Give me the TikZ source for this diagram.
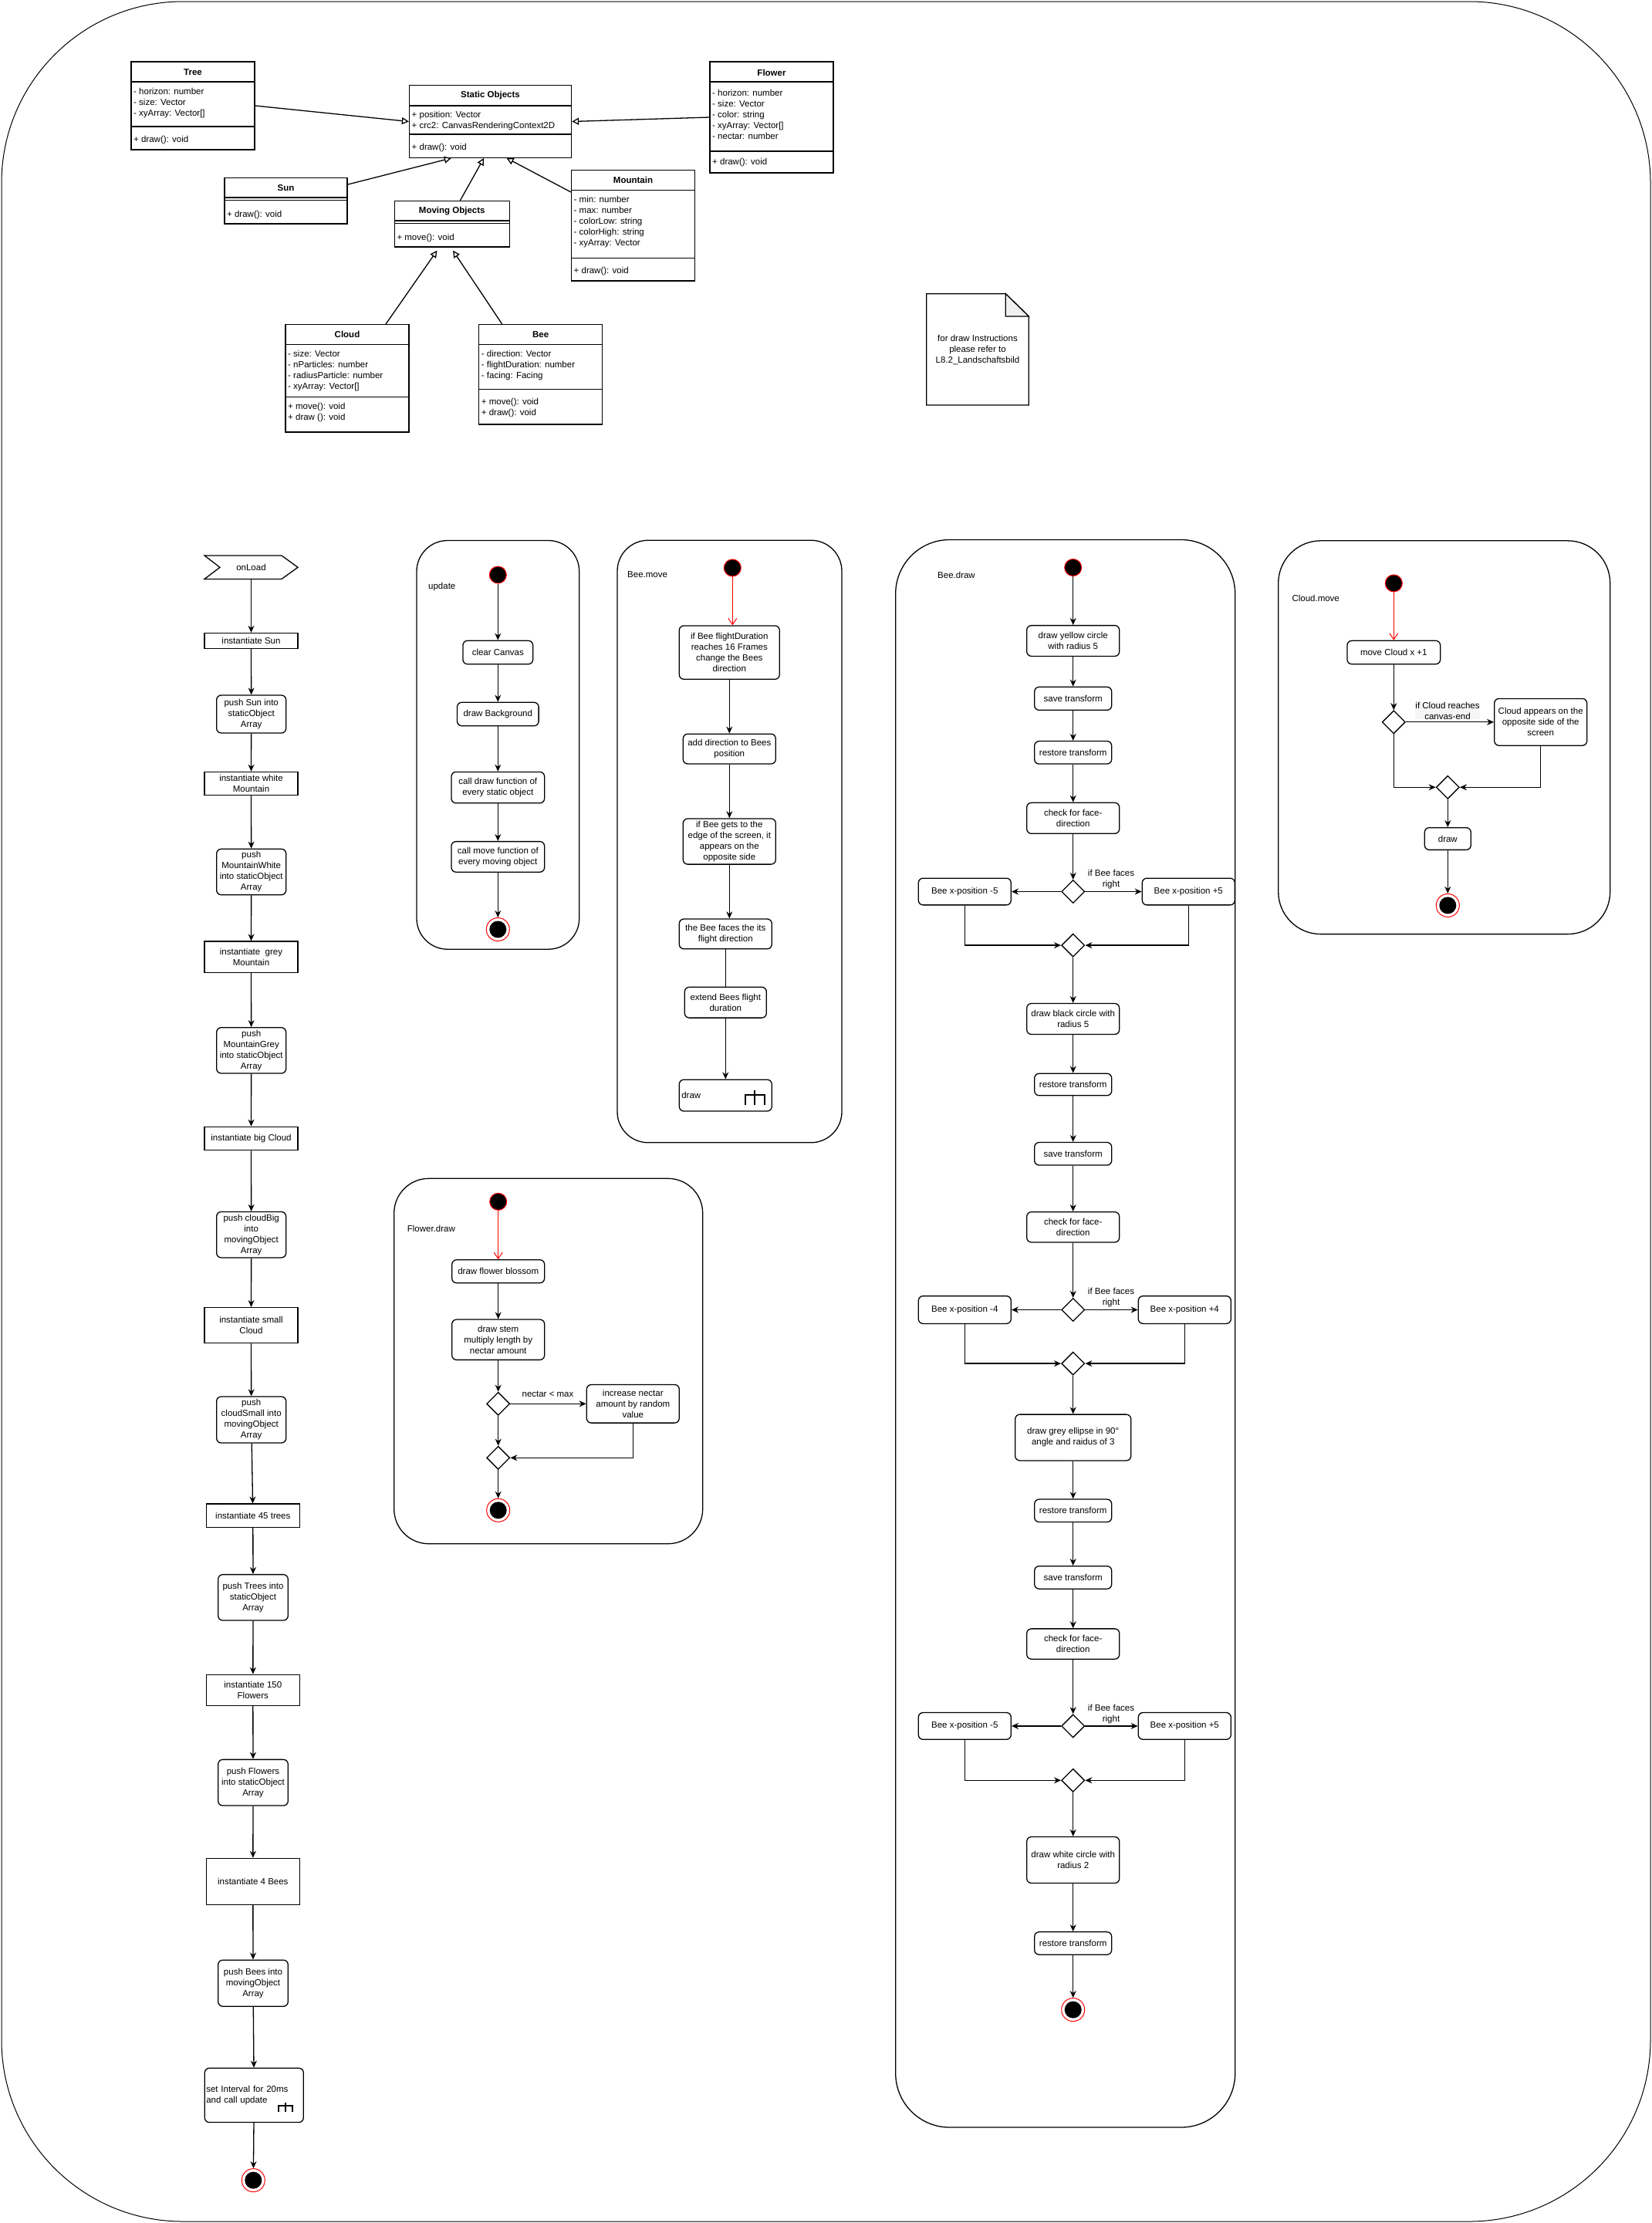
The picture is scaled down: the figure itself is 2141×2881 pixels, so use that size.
\documentclass[tikz,border=0pt]{standalone}
\usepackage{fontspec}
\setmainfont{Liberation Sans}
\usepackage{tikz}
\usetikzlibrary{shapes.geometric, arrows.meta, positioning, calc}
\newcommand{\flowfont}{\fontsize{11.5}{14}\selectfont}
\tikzset{
  wh/.style 2 args={minimum width=#1pt, minimum height=#2pt},
  act/.style={draw, rounded corners=6pt, align=center, inner sep=1pt, line width=1.3pt, font=\flowfont},
  actsq/.style={draw, align=center, inner sep=1pt, line width=1.3pt, font=\flowfont},
  cls/.style={draw, inner sep=0pt, line width=1.3pt},
  clsname/.style={font=\flowfont\bfseries, inner sep=0pt},
  clstext/.style={anchor=west, align=left, font=\flowfont, inner sep=0pt},
  decision/.style={draw, diamond, wh={30}{30}, inner sep=0pt, line width=1.3pt},
  startdot/.style={circle, draw=red, fill=black, minimum size=22pt, inner sep=0pt, line width=1pt},
  enddot/.style={circle, draw=red, fill=white, minimum size=30pt, inner sep=0pt, line width=1pt,
    path picture={\fill[black] (path picture bounding box.center) circle (11pt);}},
  arr/.style={-{Stealth[length=9pt, width=8pt]}, line width=1.3pt},
  redarr/.style={red, -{Straight Barb[length=8pt, width=11pt]}, line width=1pt},
  inherit/.style={-{Triangle[open, length=9pt, width=9pt]}, line width=1.3pt},
  panel/.style={draw, line width=1.3pt},
  lbl/.style={font=\flowfont, inner sep=0pt, align=center},
  paneltitle/.style={font=\flowfont, inner sep=0pt, anchor=west}
}

\begin{document}
\begin{tikzpicture}[x=1pt, y=-1pt]
    \useasboundingbox (0,0) rectangle (2141,2881);

    % Outer frame
    \draw[line width=1pt, rounded corners=235pt] (2,2) rectangle (2139,2879);

    % Tree class
    \node[cls, wh={160}{114}] (tree) at (250,137) {};
    \node[clsname] (treename) at (250,94) {Tree};
    \draw[line width=1.3pt] (170,106) -- (330,106);
    \draw[line width=1.3pt] (170,164) -- (330,164);
    \node[clstext] (treeattr) at (173,133.7) {- horizon: number\\- size: Vector\\- xyArray: Vector[]};
    \node[clstext] (treeops) at (173,181.7) {+ draw(): void};

    % Static Objects class
    \node[cls, wh={210}{93.6}] (static) at (635.5,157.5) {};
    \node[clsname] (staticname) at (635.5,124) {Static Objects};
    \draw[line width=1.3pt] (530.5,137) -- (740.5,137);
    \draw[line width=1.3pt] (530.5,174) -- (740.5,174);
    \node[clstext] (staticattr) at (533.5,156.7) {+ position: Vector\\+ crc2: CanvasRenderingContext2D};
    \node[clstext] (staticops) at (533.5,191.7) {+ draw(): void};

    % Sun class
    \node[cls, wh={159}{59.3}] (sun) at (370.5,260.3) {};
    \node[clsname] (sunname) at (370.5,244) {Sun};
    \draw[line width=1.3pt] (291,256) -- (450,256);
    \draw[line width=1.3pt] (291,259.3) -- (450,259.3);
    \node[clstext] (sunops) at (294,278.3) {+ draw(): void};

    % Moving Objects class
    \node[cls, wh={149}{59.3}] (moving) at (585.8,290.3) {};
    \node[clsname] (movingname) at (585.8,274) {Moving Objects};
    \draw[line width=1.3pt] (511.3,286) -- (660.3,286);
    \draw[line width=1.3pt] (511.3,289.3) -- (660.3,289.3);
    \node[clstext] (movingops) at (514.3,308.3) {+ move(): void};

    % Mountain class
    \node[cls, wh={160}{143.3}] (mountain) at (820.5,292.3) {};
    \node[clsname] (mountainname) at (820.5,233.7) {Mountain};
    \draw[line width=1.3pt] (740.5,246.7) -- (900.5,246.7);
    \draw[line width=1.3pt] (740.5,334.7) -- (900.5,334.7);
    \node[clstext] (mountainattr) at (743.5,288) {- min: number\\- max: number\\- colorLow: string\\- colorHigh: string\\- xyArray: Vector};
    \node[clstext] (mountainops) at (743.5,351.7) {+ draw(): void};

    % Flower class
    \node[cls, wh={160}{144}] (flower) at (1000,152) {};
    \node[clsname] (flowername) at (1000,94) {Flower};
    \draw[line width=1.3pt] (920,106) -- (1080,106);
    \draw[line width=1.3pt] (920,196) -- (1080,196);
    \node[clstext] (flowerattr) at (923,148) {- horizon: number\\- size: Vector\\- color: string\\- xyArray: Vector[]\\- nectar: number};
    \node[clstext] (flowerops) at (923,211) {+ draw(): void};

    % Cloud class
    \node[cls, wh={160}{139.3}] (cloud) at (450,490.3) {};
    \node[clsname] (cloudname) at (450,433.3) {Cloud};
    \draw[line width=1.3pt] (370,446.7) -- (530,446.7);
    \draw[line width=1.3pt] (370,514.3) -- (530,514.3);
    \node[clstext] (cloudattr) at (373,480.3) {- size: Vector\\- nParticles: number\\- radiusParticle: number\\- xyArray: Vector[]};
    \node[clstext] (cloudops) at (373,534.7) {+ move(): void\\+ draw (): void};

    % Bee class
    \node[cls, wh={160}{129.3}] (bee) at (700.7,485.3) {};
    \node[clsname] (beename) at (700.7,433.3) {Bee};
    \draw[line width=1.3pt] (620.7,446.7) -- (780.7,446.7);
    \draw[line width=1.3pt] (620.7,504.3) -- (780.7,504.3);
    \node[clstext] (beeattr) at (623.7,473.3) {- direction: Vector\\- flightDuration: number\\- facing: Facing};
    \node[clstext] (beeops) at (623.7,528.7) {+ move(): void\\+ draw(): void};

    % Inheritance
    \draw[inherit] (tree.east) -- (static.west);
    \draw[inherit] (flower.west) -- (static.east);
    \draw[inherit] ($(sun.north east)!.15!(sun.south east)$) -- ($(static.south west)!.26!(static.south east)$);
    \draw[inherit] ($(moving.north west)!.57!(moving.north east)$) -- ($(static.south west)!.46!(static.south east)$);
    \draw[inherit] ($(mountain.north west)!.2!(mountain.south west)$) -- ($(static.south west)!.6!(static.south east)$);
    \draw[inherit, shorten >=5pt] ($(cloud.north west)!.81!(cloud.north east)$) -- ($(moving.south west)!.39!(moving.south east)$);
    \draw[inherit, shorten >=5pt] ($(bee.north west)!.19!(bee.north east)$) -- ($(moving.south west)!.49!(moving.south east)$);

    % Note
    \draw[line width=1.3pt] (1200.7,380.7) -- (1303.3,380.7) -- (1333.3,410) -- (1333.3,525) -- (1200.7,525) -- cycle;
    \filldraw[fill=black!6, line width=1.3pt] (1303.3,380.7) -- (1303.3,410) -- (1333.3,410) -- cycle;
    \node[lbl] (note) at (1267,453) {for draw Instructions\\please refer to\\L8.2\_Landschaftsbild};

    % onLoad
    \draw[line width=1.3pt] (265,720) -- (365,720) -- (386,735.3) -- (365,750.4) -- (265,750.4) -- (285,735.3) -- cycle;
    \node[lbl, wh={121}{30.4}] (onload) at (325.5,735.3) {onLoad};
    \node[actsq, wh={121}{20}] (isun) at (325.5,830.5) {instantiate Sun};
    \node[act, wh={90}{49}] (psun) at (325.7,925.5) {push Sun into\\staticObject\\Array};
    \node[actsq, wh={121}{30}] (iwm) at (325.5,1015.4) {instantiate white\\Mountain};
    \node[act, wh={90}{59.4}] (pwm) at (325.7,1130) {push\\MountainWhite\\into staticObject\\Array};
    \node[actsq, wh={121}{40.3}] (igm) at (325.5,1240.2) {instantiate\ \ grey\\Mountain};
    \node[act, wh={90}{59.3}] (pgm) at (325.7,1361.4) {push\\MountainGrey\\into staticObject\\Array};
    \node[actsq, wh={121}{30.3}] (ibc) at (325.5,1475.5) {instantiate big Cloud};
    \node[act, wh={90}{59.4}] (pbc) at (325.7,1600.2) {push cloudBig\\into\\movingObject\\Array};
    \node[actsq, wh={121}{46}] (isc) at (325.5,1717.6) {instantiate small\\Cloud};
    \node[act, wh={90}{60}] (psc) at (325.7,1840) {push\\cloudSmall into\\movingObject\\Array};
    \node[actsq, wh={121}{30.4}] (itr) at (327.8,1964.3) {instantiate 45 trees};
    \node[act, wh={90.6}{59.4}] (ptr) at (328,2070.3) {push Trees into\\staticObject\\Array};
    \node[actsq, wh={121}{40.2}] (ifl) at (327.8,2190.4) {instantiate 150\\Flowers};
    \node[act, wh={90.6}{59.7}] (pfl) at (328,2310.2) {push Flowers\\into staticObject\\Array};
    \node[actsq, wh={121}{60}] (ibe) at (327.8,2438.4) {instantiate 4 Bees};
    \node[act, wh={90.6}{60}] (pbe) at (328,2570.2) {push Bees into\\movingObject\\Array};
    \node[act, wh={128}{70.3}, text width=124pt, align=left] (sint) at (329.3,2715.4) {set Interval for 20ms\\and call update};
    \draw[line width=1.3pt] (370,2725) -- (370,2737);
    \draw[line width=1.3pt] (361,2737) -- (361,2729) -- (379,2729) -- (379,2737);
    \node[enddot] (lend) at (328.3,2825.6) {};
    \foreach \a/\b in {onload/isun, isun/psun, psun/iwm, iwm/pwm, pwm/igm, igm/pgm, pgm/ibc, ibc/pbc,
                       pbc/isc, isc/psc, psc/itr, itr/ptr, ptr/ifl, ifl/pfl, pfl/ibe, ibe/pbe, pbe/sint, sint/lend}
        \draw[arr] (\a) -- (\b);

    % update
    \draw[panel, rounded corners=40pt] (540,700.5) rectangle (750.7,1230.2);
    \node[paneltitle] (utitle) at (555,761) {update};
    \node[startdot] (ustart) at (645.3,745) {};
    \node[act, wh={90.7}{30.5}] (uclear) at (645.3,845.5) {clear Canvas};
    \node[act, wh={105.6}{30.5}] (ubg) at (645.3,925.5) {draw Background};
    \node[act, wh={120.7}{40.4}] (udraw) at (645.3,1020.6) {call draw function of\\every static object};
    \node[act, wh={120.7}{39.6}] (umove) at (645.3,1110.4) {call move function of\\every moving object};
    \node[enddot] (uend) at (645.3,1204.5) {};
    \foreach \a/\b in {ustart/uclear, uclear/ubg, ubg/udraw, udraw/umove, umove/uend}
        \draw[arr] (\a) -- (\b);

    % Bee.move
    \draw[panel, rounded corners=40pt] (800,700.2) rectangle (1091,1480.8);
    \node[paneltitle] (mtitle) at (813,745) {Bee.move};
    \node[startdot] (mstart) at (949.3,735.9) {};
    \node[act, wh={130}{69.4}] (m1) at (945.3,845.6) {if Bee flightDuration\\reaches 16 Frames\\change the Bees\\direction};
    \node[act, wh={120}{38.8}] (m2) at (945.3,970.6) {add direction to Bees\\position};
    \node[act, wh={120}{59.2}] (m3) at (945.3,1090.5) {if Bee gets to the\\edge of the screen, it\\appears on the\\opposite side};
    \node[act, wh={120}{38.8}] (m4) at (940.3,1210.4) {the Bee faces the its\\flight direction};
    \node[act, wh={106}{39.8}] (m5) at (940.3,1299.2) {extend Bees flight\\duration};
    \node[act, wh={120}{40.8}, text width=114pt, align=left] (m6) at (940.3,1419.6) {draw};
    \draw[line width=1.3pt] (978,1413) -- (978,1432);
    \draw[line width=1.3pt] (966,1432) -- (966,1419) -- (991,1419) -- (991,1432);
    \draw[redarr] (mstart) -- (mstart |- m1.north);
    \draw[arr] (m1) -- (m2);
    \draw[arr] (m2) -- (m3);
    \draw[arr] (m3.south) -- (m3.south |- m4.north);
    \draw[line width=1.3pt] (m4) -- (m5);
    \draw[arr] (m5) -- (m6);

    % Flower.draw
    \draw[panel, rounded corners=45pt] (510.7,1527.3) rectangle (910.7,2000.7);
    \node[paneltitle] (ftitle) at (527.7,1592.7) {Flower.draw};
    \node[startdot] (fstart) at (645.7,1557.3) {};
    \node[act, wh={120}{30}] (f1) at (645.7,1647.7) {draw flower blossom};
    \node[act, wh={120}{52.3}] (f2) at (645.7,1736.2) {draw stem\\multiply length by\\nectar amount};
    \node[decision] (fd1) at (645.7,1819.3) {};
    \node[act, wh={120}{49.6}] (f3) at (820.3,1819.3) {increase nectar\\amount by random\\value};
    \node[decision] (fd2) at (645.7,1889.3) {};
    \node[enddot] (fend) at (645.7,1957.3) {};
    \node[lbl] (fcond) at (710,1806.5) {nectar < max};
    \draw[redarr] (fstart) -- (f1);
    \draw[arr] (f1) -- (f2);
    \draw[arr] (f2) -- (fd1);
    \draw[arr] (fd1) -- (f3);
    \draw[arr] (fd1) -- (fd2);
    \draw[arr] (f3) |- (fd2);
    \draw[arr] (fd2) -- (fend);

    % Bee.draw
    \draw[panel, rounded corners=70pt] (1160.7,699.5) rectangle (1600.7,2757);
    \node[paneltitle] (dtitle) at (1215,745.5) {Bee.draw};
    \node[startdot] (dstart) at (1390.7,735.5) {};
    \node[act, wh={120}{39.8}] (d1) at (1390.7,830.5) {draw yellow circle\\with radius 5};
    \node[act, wh={100}{30}] (d2) at (1390.7,905.3) {save transform};
    \node[act, wh={100}{29.5}] (d3) at (1390.7,975.3) {restore transform};
    \node[act, wh={120}{40}] (d4) at (1390.7,1060.3) {check for face-\\direction};
    \node[decision] (dd1) at (1390.7,1155.5) {};
    \node[act, wh={120}{34.7}] (dl1) at (1250.3,1155.5) {Bee x-position -5};
    \node[act, wh={120}{34.7}] (dr1) at (1540.3,1155.5) {Bee x-position +5};
    \node[lbl] (dlab1) at (1440,1140) {if Bee faces\\right};
    \node[decision] (dm1) at (1390.7,1225.1) {};
    \node[act, wh={120}{40}] (d5) at (1390.7,1320.5) {draw black circle with\\radius 5};
    \node[act, wh={100}{28.5}] (d6) at (1390.7,1405.5) {restore transform};
    \node[act, wh={100}{29.5}] (d7) at (1390.7,1495.3) {save transform};
    \node[act, wh={120}{39.3}] (d8) at (1390.7,1590.3) {check for face-\\direction};
    \node[decision] (dd2) at (1390.7,1697.5) {};
    \node[act, wh={120}{35.8}] (dl2) at (1250.3,1697.5) {Bee x-position -4};
    \node[act, wh={120}{35.8}] (dr2) at (1535.3,1697.5) {Bee x-position +4};
    \node[lbl] (dlab2) at (1440,1682) {if Bee faces\\right};
    \node[decision] (dm2) at (1390.7,1767.1) {};
    \node[act, wh={150}{59.8}] (d9) at (1390.7,1863) {draw grey ellipse in 90°\\angle and raidus of 3};
    \node[act, wh={100}{29.5}] (d10) at (1390.7,1957.8) {restore transform};
    \node[act, wh={100}{29.5}] (d11) at (1390.7,2044.4) {save transform};
    \node[act, wh={120}{39.3}] (d12) at (1390.7,2130.5) {check for face-\\direction};
    \node[decision] (dd3) at (1390.7,2236.9) {};
    \node[act, wh={120}{34.8}] (dl3) at (1250.3,2236.9) {Bee x-position -5};
    \node[act, wh={120}{34.8}] (dr3) at (1535.3,2236.9) {Bee x-position +5};
    \node[lbl] (dlab3) at (1440,2221.6) {if Bee faces\\right};
    \node[decision] (dm3) at (1390.7,2307.3) {};
    \node[act, wh={120}{60}] (d13) at (1390.7,2410.5) {draw white circle with\\radius 2};
    \node[act, wh={100}{29.4}] (d14) at (1390.7,2518.5) {restore transform};
    \node[enddot] (dend) at (1390.7,2604.6) {};
    \foreach \a/\b in {dstart/d1, d1/d2, d2/d3, d3/d4, d4/dd1, dm1/d5, d5/d6, d6/d7, d7/d8, d8/dd2,
                       dm2/d9, d9/d10, d10/d11, d11/d12, d12/dd3, dm3/d13, d13/d14, d14/dend}
        \draw[arr] (\a) -- (\b);
    \foreach \n in {1,2,3} {
        \draw[arr] (dd\n) -- (dl\n);
        \draw[arr] (dd\n) -- (dr\n);
        \draw[arr] (dl\n) |- (dm\n);
        \draw[arr] (dr\n) |- (dm\n);
    }

    % Cloud.move
    \draw[panel, rounded corners=55pt] (1656.7,700.8) rectangle (2086.7,1210.6);
    \node[paneltitle] (ctitle) at (1674.3,775.5) {Cloud.move};
    \node[startdot] (cstart) at (1806.3,755.9) {};
    \node[act, wh={120.7}{30.4}] (c1) at (1806.3,845.5) {move Cloud x +1};
    \node[decision] (cd1) at (1806.3,935.8) {};
    \node[act, wh={120}{60.8}] (c2) at (1996.7,935.8) {Cloud appears on the\\opposite side of the\\screen};
    \node[lbl, fill=black!4] (clab) at (1876,921) {if Cloud reaches\\canvas-end};
    \node[decision] (cm) at (1876.3,1020.3) {};
    \node[act, wh={60}{28.7}] (c3) at (1876.3,1087) {draw};
    \node[enddot] (cend) at (1876.3,1173.4) {};
    \draw[redarr] (cstart) -- (c1);
    \draw[arr] (c1) -- (cd1);
    \draw[arr] (cd1) -- (c2);
    \draw[arr] (cd1) |- (cm);
    \draw[arr] (c2) |- (cm);
    \draw[arr] (cm) -- (c3);
    \draw[arr] (c3) -- (cend);
\end{tikzpicture}
\end{document}
